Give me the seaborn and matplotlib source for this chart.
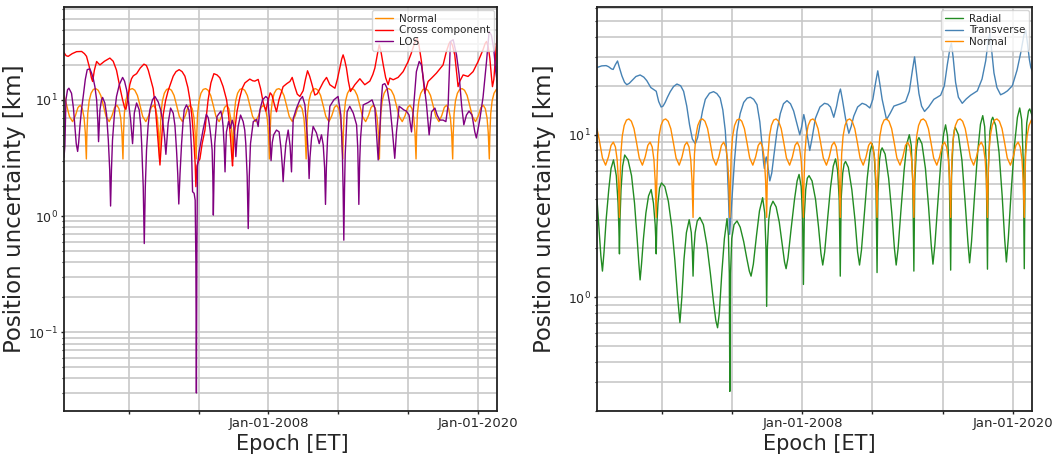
import numpy as np
import pandas as pd
import matplotlib
matplotlib.use("Agg")
import matplotlib.pyplot as plt
import matplotlib.dates as mdates
from matplotlib.ticker import FuncFormatter, LogLocator, NullFormatter
import seaborn as sns

# ---------------------------------------------------------------------------
# Position uncertainty time series (epochs in decimal years, values in km)
# ---------------------------------------------------------------------------
normal_epoch = [
    1996.28, 1996.44, 1996.59, 1996.77, 1996.93, 1997.08, 1997.21, 1997.33, 1997.43, 1997.50,
    1997.56, 1997.59, 1997.64, 1997.72, 1997.83, 1997.96, 1998.10, 1998.24, 1998.39, 1998.54, 1998.69, 1998.87, 1999.03, 1999.18, 1999.31, 1999.43, 1999.53, 1999.60,
    1999.66, 1999.69, 1999.74, 1999.82, 1999.93, 2000.06, 2000.20, 2000.34, 2000.49, 2000.64, 2000.79, 2000.97, 2001.13, 2001.28, 2001.41, 2001.53, 2001.63, 2001.70,
    2001.76, 2001.79, 2001.84, 2001.92, 2002.03, 2002.16, 2002.30, 2002.44, 2002.59, 2002.74, 2002.89, 2003.07, 2003.23, 2003.38, 2003.51, 2003.63, 2003.73, 2003.80,
    2003.86, 2003.89, 2003.94, 2004.02, 2004.13, 2004.26, 2004.40, 2004.54, 2004.69, 2004.84, 2004.99, 2005.17, 2005.33, 2005.48, 2005.61, 2005.73, 2005.83, 2005.90,
    2005.96, 2005.99, 2006.04, 2006.12, 2006.23, 2006.36, 2006.50, 2006.64, 2006.79, 2006.94, 2007.09, 2007.27, 2007.43, 2007.58, 2007.71, 2007.83, 2007.93, 2008.00,
    2008.06, 2008.09, 2008.14, 2008.22, 2008.33, 2008.46, 2008.60, 2008.74, 2008.89, 2009.04, 2009.19, 2009.37, 2009.53, 2009.68, 2009.81, 2009.93, 2010.03, 2010.10,
    2010.16, 2010.19, 2010.24, 2010.32, 2010.43, 2010.56, 2010.70, 2010.84, 2010.99, 2011.14, 2011.29, 2011.47, 2011.63, 2011.78, 2011.91, 2012.03, 2012.13, 2012.20,
    2012.26, 2012.29, 2012.34, 2012.42, 2012.53, 2012.66, 2012.80, 2012.94, 2013.09, 2013.24, 2013.39, 2013.57, 2013.73, 2013.88, 2014.01, 2014.13, 2014.23, 2014.30,
    2014.36, 2014.39, 2014.44, 2014.52, 2014.63, 2014.76, 2014.90, 2015.04, 2015.19, 2015.34, 2015.49, 2015.67, 2015.83, 2015.98, 2016.11, 2016.23, 2016.33, 2016.40,
    2016.46, 2016.49, 2016.54, 2016.62, 2016.73, 2016.86, 2017.00, 2017.14, 2017.29, 2017.44, 2017.59, 2017.77, 2017.93, 2018.08, 2018.21, 2018.33, 2018.43, 2018.50,
    2018.56, 2018.59, 2018.64, 2018.72, 2018.83, 2018.96, 2019.10, 2019.24, 2019.39, 2019.54, 2019.69, 2019.87, 2020.03, 2020.18, 2020.31, 2020.43, 2020.53, 2020.60,
    2020.66, 2020.69, 2020.74, 2020.82, 2020.93, 2021.06, 2021.12,
]
normal_km = [
    10.9, 8.9, 7.2, 6.5, 7.3, 8.6, 9.0, 8.4, 7.0, 5.2,
    3.1, 5.0, 7.6, 9.8, 11.4, 12.3, 12.5, 12.1, 10.9, 8.9, 7.2, 6.5, 7.3, 8.6, 9.0, 8.4, 7.0, 5.2,
    3.1, 5.0, 7.6, 9.8, 11.4, 12.3, 12.5, 12.1, 10.9, 8.9, 7.2, 6.5, 7.3, 8.6, 9.0, 8.4, 7.0, 5.2,
    3.1, 5.0, 7.6, 9.8, 11.4, 12.3, 12.5, 12.1, 10.9, 8.9, 7.2, 6.5, 7.3, 8.6, 9.0, 8.4, 7.0, 5.2,
    3.1, 5.0, 7.6, 9.8, 11.4, 12.3, 12.5, 12.1, 10.9, 8.9, 7.2, 6.5, 7.3, 8.6, 9.0, 8.4, 7.0, 5.2,
    3.1, 5.0, 7.6, 9.8, 11.4, 12.3, 12.5, 12.1, 10.9, 8.9, 7.2, 6.5, 7.3, 8.6, 9.0, 8.4, 7.0, 5.2,
    3.1, 5.0, 7.6, 9.8, 11.4, 12.3, 12.5, 12.1, 10.9, 8.9, 7.2, 6.5, 7.3, 8.6, 9.0, 8.4, 7.0, 5.2,
    3.1, 5.0, 7.6, 9.8, 11.4, 12.3, 12.5, 12.1, 10.9, 8.9, 7.2, 6.5, 7.3, 8.6, 9.0, 8.4, 7.0, 5.2,
    3.1, 5.0, 7.6, 9.8, 11.4, 12.3, 12.5, 12.1, 10.9, 8.9, 7.2, 6.5, 7.3, 8.6, 9.0, 8.4, 7.0, 5.2,
    3.1, 5.0, 7.6, 9.8, 11.4, 12.3, 12.5, 12.1, 10.9, 8.9, 7.2, 6.5, 7.3, 8.6, 9.0, 8.4, 7.0, 5.2,
    3.1, 5.0, 7.6, 9.8, 11.4, 12.3, 12.5, 12.1, 10.9, 8.9, 7.2, 6.5, 7.3, 8.6, 9.0, 8.4, 7.0, 5.2,
    3.1, 5.0, 7.6, 9.8, 11.4, 12.3, 12.5, 12.1, 10.9, 8.9, 7.2, 6.5, 7.3, 8.6, 9.0, 8.4, 7.0, 5.2,
    3.1, 5.0, 7.6, 9.8, 11.4, 12.3, 12.4,
]

cross_epoch = [
    1996.28, 1996.40, 1996.52, 1996.75, 1997.00, 1997.29, 1997.45, 1997.57, 1997.72, 1997.85,
    1997.92, 1998.02, 1998.15, 1998.25, 1998.34, 1998.60, 1998.91, 1999.10, 1999.29, 1999.50,
    1999.64, 1999.75, 1999.83, 1999.93, 2000.05, 2000.15, 2000.25, 2000.44, 2000.65, 2000.86,
    2001.00, 2001.11, 2001.25, 2001.39, 2001.52, 2001.64, 2001.73, 2001.78, 2001.85, 2001.97,
    2002.10, 2002.25, 2002.54, 2002.70, 2002.88, 2003.05, 2003.21, 2003.38, 2003.50, 2003.62,
    2003.72, 2003.80, 2003.84, 2003.90, 2003.96, 2004.07, 2004.20, 2004.36, 2004.45, 2004.54,
    2004.70, 2004.87, 2005.05, 2005.21, 2005.40, 2005.60, 2005.72, 2005.82, 2005.90, 2005.94,
    2005.99, 2006.07, 2006.20, 2006.36, 2006.50, 2006.65, 2006.93, 2007.10, 2007.22, 2007.41,
    2007.55, 2007.70, 2007.85, 2007.95, 2008.10, 2008.20, 2008.35, 2008.46, 2008.60, 2008.84,
    2009.05, 2009.23, 2009.36, 2009.51, 2009.65, 2009.80, 2009.99, 2010.12, 2010.24, 2010.36,
    2010.47, 2010.66, 2010.80, 2010.95, 2011.15, 2011.33, 2011.52, 2011.81, 2011.95, 2012.09,
    2012.20, 2012.28, 2012.37, 2012.47, 2012.58, 2012.70, 2012.95, 2013.24, 2013.52, 2013.81,
    2013.98, 2014.10, 2014.25, 2014.35, 2014.46, 2014.58, 2014.72, 2014.86, 2014.96, 2015.15,
    2015.43, 2015.72, 2016.01, 2016.18, 2016.29, 2016.44, 2016.52, 2016.62, 2016.77, 2016.88,
    2016.96, 2017.05, 2017.15, 2017.35, 2017.63, 2018.01, 2018.20, 2018.35, 2018.43, 2018.55,
    2018.68, 2018.80, 2018.87, 2018.97, 2019.16, 2019.44, 2019.73, 2020.02, 2020.30, 2020.42,
    2020.50, 2020.60, 2020.69, 2020.78, 2020.84, 2020.92, 2020.98, 2021.05, 2021.12,
]
cross_km = [
    25.5, 24.0, 23.7, 25.0, 26.0, 26.1, 25.0, 23.7, 19.5, 15.5,
    14.4, 18.0, 21.4, 20.6, 20.0, 21.5, 22.9, 21.5, 18.0, 12.5,
    10.0, 8.6, 8.3, 10.0, 13.5, 15.2, 16.1, 16.8, 18.8, 20.3,
    19.8, 18.0, 15.0, 12.5, 8.5, 5.0, 3.4, 2.75, 4.0, 7.5,
    9.8, 12.0, 16.0, 17.5, 18.2, 17.5, 16.0, 12.8, 10.0, 7.0,
    4.6, 2.8, 1.79, 2.7, 2.9, 3.1, 4.2, 5.5, 7.5, 10.0,
    14.0, 16.8, 16.4, 15.5, 13.0, 10.0, 7.2, 4.8, 3.2, 2.7,
    3.8, 5.5, 8.0, 10.5, 12.6, 14.0, 15.1, 14.6, 14.5, 15.0,
    12.5, 9.5, 8.0, 9.5, 11.5, 11.0, 9.0, 7.9, 10.0, 13.0,
    13.8, 14.4, 15.6, 13.0, 11.2, 10.7, 12.0, 15.0, 17.8, 16.0,
    14.0, 11.0, 11.3, 12.5, 14.3, 15.6, 13.5, 12.6, 15.0, 18.8,
    22.5, 24.4, 22.0, 18.8, 14.5, 11.8, 13.5, 15.2, 13.5, 14.5,
    16.5, 18.8, 25.0, 29.8, 25.5, 20.0, 15.5, 13.5, 15.4, 14.9,
    15.6, 17.5, 21.4, 25.0, 28.2, 33.0, 34.0, 30.0, 21.4, 14.5,
    11.4, 12.8, 14.4, 15.4, 17.0, 20.0, 26.1, 30.5, 31.8, 29.5,
    24.4, 16.5, 13.0, 14.5, 16.4, 15.9, 17.5, 21.4, 27.0, 30.5,
    31.8, 28.5, 22.8, 16.0, 13.0, 15.0, 20.0, 28.0, 36.0,
]

los_epoch = [
    1996.28, 1996.33, 1996.39, 1996.48, 1996.56, 1996.71, 1996.82, 1996.90, 1996.98, 1997.06,
    1997.12, 1997.19, 1997.28, 1997.38, 1997.50, 1997.61, 1997.76, 1997.86, 1997.95, 1998.05,
    1998.15, 1998.22, 1998.26, 1998.30, 1998.34, 1998.42, 1998.49, 1998.62, 1998.72, 1998.82,
    1998.90, 1998.95, 1999.00, 1999.06, 1999.17, 1999.29, 1999.45, 1999.64, 1999.75, 1999.87,
    2000.00, 2000.10, 2000.17, 2000.21, 2000.26, 2000.31, 2000.44, 2000.59, 2000.68, 2000.73,
    2000.82, 2000.88, 2000.94, 2001.01, 2001.10, 2001.20, 2001.35, 2001.49, 2001.68, 2001.82,
    2001.93, 2002.04, 2002.12, 2002.18, 2002.25, 2002.39, 2002.54, 2002.64, 2002.73, 2002.80,
    2002.86, 2002.93, 2003.02, 2003.10, 2003.17, 2003.30, 2003.44, 2003.52, 2003.59, 2003.65,
    2003.74, 2003.80, 2003.84, 2003.87, 2003.90, 2003.93, 2004.01, 2004.12, 2004.25, 2004.44,
    2004.55, 2004.63, 2004.72, 2004.77, 2004.81, 2004.84, 2004.88, 2004.92, 2005.05, 2005.27,
    2005.35, 2005.40, 2005.46, 2005.51, 2005.55, 2005.59, 2005.71, 2005.82, 2005.92, 2006.02,
    2006.08, 2006.13, 2006.19, 2006.26, 2006.40, 2006.55, 2006.64, 2006.70, 2006.78, 2006.84,
    2006.90, 2006.97, 2007.13, 2007.32, 2007.41, 2007.51, 2007.66, 2007.85, 2007.96, 2008.05,
    2008.10, 2008.15, 2008.22, 2008.30, 2008.46, 2008.61, 2008.72, 2008.80, 2008.84, 2008.90,
    2009.00, 2009.13, 2009.24, 2009.32, 2009.37, 2009.42, 2009.61, 2009.80, 2009.95, 2010.09,
    2010.22, 2010.29, 2010.33, 2010.38, 2010.47, 2010.56, 2010.75, 2010.91, 2011.04, 2011.14,
    2011.22, 2011.27, 2011.32, 2011.39, 2011.52, 2011.75, 2011.99, 2012.15, 2012.24, 2012.28,
    2012.32, 2012.36, 2012.40, 2012.51, 2012.66, 2012.86, 2013.05, 2013.12, 2013.18, 2013.23,
    2013.28, 2013.43, 2013.72, 2013.94, 2014.10, 2014.19, 2014.29, 2014.38, 2014.46, 2014.54,
    2014.67, 2014.80, 2014.96, 2015.11, 2015.24, 2015.34, 2015.49, 2015.63, 2015.76, 2015.91,
    2016.06, 2016.20, 2016.33, 2016.48, 2016.64, 2016.77, 2016.90, 2017.06, 2017.21, 2017.35,
    2017.54, 2017.67, 2017.82, 2018.01, 2018.17, 2018.30, 2018.37, 2018.43, 2018.59, 2018.78,
    2018.93, 2019.07, 2019.20, 2019.35, 2019.50, 2019.67, 2019.83, 2019.92, 2020.11, 2020.30,
    2020.50, 2020.65, 2020.78, 2020.92, 2021.03, 2021.12,
]
los_km = [
    3.2, 4.0, 10.0, 12.2, 12.6, 11.4, 8.5, 5.9, 4.2, 3.6,
    4.3, 5.9, 8.2, 10.7, 15.0, 18.2, 18.5, 17.0, 15.4, 13.0,
    10.0, 6.5, 4.37, 6.0, 8.2, 9.8, 10.5, 9.4, 7.5, 4.5,
    2.5, 1.22, 2.5, 4.5, 7.5, 10.7, 13.5, 15.6, 14.5, 12.2,
    9.0, 6.7, 5.0, 4.2, 5.5, 7.7, 9.4, 8.2, 6.0, 4.2,
    1.8, 0.58, 1.8, 3.7, 6.0, 8.2, 10.0, 10.7, 9.6, 8.2,
    6.7, 4.8, 3.4, 4.5, 6.3, 8.5, 7.7, 6.0, 3.7, 2.3,
    1.27, 2.3, 4.2, 6.3, 8.2, 9.05, 8.2, 6.0, 3.7, 1.62,
    1.57, 1.37, 0.4, 0.030, 0.5, 2.66, 3.47, 4.3, 5.5, 7.5,
    7.0, 5.9, 4.5, 3.7, 2.2, 1.02, 2.3, 4.2, 7.2, 8.0,
    7.0, 5.9, 4.0, 2.4, 3.8, 5.3, 6.5, 5.7, 6.7, 5.9,
    4.5, 3.25, 4.5, 5.9, 7.4, 6.5, 5.5, 4.2, 2.2, 0.78,
    2.2, 4.2, 6.5, 6.8, 5.9, 8.2, 10.0, 10.7, 10.3, 7.0,
    4.2, 3.0, 4.3, 5.0, 5.5, 5.3, 3.8, 2.6, 1.98, 2.8,
    4.2, 5.5, 4.0, 2.4, 4.3, 6.9, 8.5, 10.0, 10.7, 9.05,
    5.0, 3.2, 2.1, 3.2, 4.7, 5.9, 5.2, 4.2, 5.0, 4.1,
    2.6, 1.26, 2.6, 4.7, 8.8, 10.0, 10.7, 7.4, 3.36, 1.7,
    0.62, 1.7, 3.4, 7.9, 8.8, 7.7, 6.1, 3.8, 1.26, 3.0,
    4.7, 9.05, 9.5, 10.0, 8.5, 5.3, 3.04, 5.3, 9.5, 13.5,
    13.8, 12.6, 9.05, 5.3, 3.14, 5.3, 8.8, 8.5, 8.2, 8.0,
    7.4, 5.3, 9.05, 17.5, 21.4, 20.0, 14.4, 9.05, 5.0, 7.9,
    8.5, 7.4, 6.7, 6.7, 6.5, 9.05, 18.0, 31.8, 32.9, 24.4,
    16.4, 9.05, 6.1, 7.4, 8.0, 7.4, 5.3, 4.7, 6.7, 10.5,
    21.4, 38.8, 36.0, 27.0, 17.5, 14.0,
]

radial_epoch = [
    1996.28, 1996.40, 1996.50, 1996.59, 1996.68, 1996.80, 1996.95, 1997.08, 1997.22, 1997.38,
    1997.48, 1997.53, 1997.56, 1997.59, 1997.65, 1997.74, 1997.86,
    1998.05, 1998.25, 1998.42, 1998.57, 1998.67, 1998.74, 1998.82, 1998.93, 1999.07, 1999.22,
    1999.37, 1999.50, 1999.60, 1999.64, 1999.66, 1999.69, 1999.76, 1999.85, 1999.96,
    2000.15, 2000.35, 2000.55, 2000.72, 2000.88, 2001.01, 2001.12, 2001.24, 2001.38,
    2001.54, 2001.66, 2001.72, 2001.76, 2001.80, 2001.88, 2002.00, 2002.15,
    2002.35, 2002.55, 2002.75, 2002.92, 2003.06, 2003.16, 2003.26, 2003.40, 2003.55,
    2003.70, 2003.78, 2003.83, 2003.86, 2003.90, 2003.97, 2004.10, 2004.27,
    2004.45, 2004.65, 2004.82, 2004.97, 2005.07, 2005.20, 2005.38, 2005.55,
    2005.73, 2005.85, 2005.92, 2005.96, 2006.00, 2006.08, 2006.18, 2006.32,
    2006.50, 2006.68, 2006.85, 2006.98, 2007.07, 2007.18, 2007.35, 2007.55, 2007.70,
    2007.81, 2007.93, 2008.01, 2008.06, 2008.11, 2008.19, 2008.28, 2008.38,
    2008.55, 2008.75, 2008.92, 2009.06, 2009.16, 2009.27, 2009.42, 2009.60, 2009.76,
    2009.89, 2010.01, 2010.10, 2010.16, 2010.21, 2010.30, 2010.38, 2010.46,
    2010.62, 2010.82, 2011.00, 2011.15, 2011.26, 2011.37, 2011.52, 2011.70, 2011.86,
    2011.98, 2012.10, 2012.20, 2012.26, 2012.31, 2012.40, 2012.48, 2012.55,
    2012.72, 2012.92, 2013.10, 2013.25, 2013.35, 2013.46, 2013.62, 2013.80, 2013.96,
    2014.10, 2014.21, 2014.30, 2014.36, 2014.41, 2014.50, 2014.58, 2014.65,
    2014.82, 2015.02, 2015.20, 2015.35, 2015.45, 2015.56, 2015.72, 2015.90, 2016.05,
    2016.17, 2016.28, 2016.38, 2016.46, 2016.51, 2016.60, 2016.67, 2016.72,
    2016.90, 2017.10, 2017.28, 2017.44, 2017.54, 2017.65, 2017.82, 2018.00, 2018.16,
    2018.29, 2018.40, 2018.49, 2018.56, 2018.61, 2018.70, 2018.79, 2018.86,
    2019.03, 2019.22, 2019.40, 2019.54, 2019.64, 2019.75, 2019.92, 2020.10, 2020.27,
    2020.40, 2020.51, 2020.60, 2020.66, 2020.71, 2020.80, 2020.90, 2020.97, 2021.12,
]
radial_km = [
    4.0, 2.6, 1.8, 1.45, 1.9, 3.0, 4.6, 6.2, 7.0, 5.6,
    3.8, 2.6, 1.85, 3.0, 4.6, 6.4, 7.5,
    7.0, 5.6, 3.8, 2.3, 1.6, 1.28, 1.6, 2.3, 3.3, 4.2,
    4.6, 3.8, 2.8, 2.2, 1.85, 2.7, 3.8, 4.7, 5.05,
    4.8, 3.9, 2.7, 1.7, 1.0, 0.70, 1.0, 1.7, 2.5,
    3.0, 2.5, 1.9, 1.35, 1.9, 2.5, 2.95, 3.1,
    2.8, 2.1, 1.4, 0.95, 0.72, 0.65, 0.8, 1.4, 2.3,
    3.05, 2.4, 1.4, 0.264, 1.4, 2.3, 2.8, 2.95,
    2.7, 2.2, 1.75, 1.45, 1.35, 1.6, 2.4, 3.4,
    4.1, 3.3, 2.0, 0.88, 2.0, 3.0, 3.6, 3.9,
    3.6, 2.9, 2.1, 1.65, 1.5, 1.75, 2.6, 4.0, 5.2,
    5.7, 4.8, 3.2, 1.2, 3.2, 4.6, 5.4, 5.6,
    5.2, 4.0, 2.7, 1.85, 1.58, 1.9, 2.9, 4.7, 6.4,
    7.1, 6.0, 4.0, 1.35, 4.0, 5.8, 6.6, 6.85,
    6.3, 4.6, 3.0, 1.9, 1.58, 1.95, 3.1, 5.4, 7.8,
    8.8, 7.5, 4.6, 1.42, 4.4, 7.0, 8.0, 8.3,
    7.6, 5.4, 3.3, 2.0, 1.58, 2.0, 3.4, 6.0, 8.8,
    10.0, 8.6, 5.0, 1.45, 5.0, 8.0, 9.3, 9.6,
    8.8, 6.2, 3.6, 2.1, 1.6, 2.1, 3.7, 6.8, 10.0,
    11.5, 9.8, 5.8, 1.47, 5.6, 9.2, 10.7, 11.1,
    10.0, 7.0, 3.9, 2.2, 1.63, 2.2, 4.2, 7.8, 11.6,
    13.1, 11.2, 6.5, 1.49, 6.2, 10.5, 12.3, 12.8,
    11.4, 7.8, 4.2, 2.3, 1.65, 2.3, 4.6, 8.6, 12.8,
    14.6, 12.4, 7.0, 1.5, 7.0, 11.8, 14.0, 14.4, 13.0,
]

transverse_epoch = [
    1996.28, 1996.55, 1996.80, 1996.94, 1997.10, 1997.20, 1997.33, 1997.45, 1997.55, 1997.70,
    1997.85, 1997.98, 1998.12, 1998.27, 1998.50, 1998.74, 1998.95, 1999.12, 1999.35, 1999.50,
    1999.66, 1999.80, 1999.94, 2000.05, 2000.17, 2000.30, 2000.46, 2000.65, 2000.84, 2001.05,
    2001.22, 2001.40, 2001.56, 2001.72, 2001.89, 2002.02, 2002.17, 2002.30, 2002.46, 2002.70,
    2002.93, 2003.12, 2003.31, 2003.46, 2003.60, 2003.70, 2003.78, 2003.85, 2003.92, 2004.00,
    2004.12, 2004.27, 2004.45, 2004.65, 2004.85, 2005.03, 2005.22, 2005.41, 2005.57, 2005.70,
    2005.78, 2005.83, 2005.88, 2005.94, 2006.02, 2006.14, 2006.25, 2006.37, 2006.55, 2006.74,
    2006.92, 2007.12, 2007.32, 2007.50, 2007.68, 2007.85, 2007.96, 2008.08, 2008.17, 2008.27,
    2008.42, 2008.55, 2008.74, 2009.00, 2009.26, 2009.45, 2009.60, 2009.79, 2009.95, 2010.08,
    2010.17, 2010.28, 2010.46, 2010.65, 2010.78, 2010.93, 2011.15, 2011.41, 2011.62, 2011.85,
    2012.02, 2012.18, 2012.30, 2012.42, 2012.55, 2012.80, 2013.00, 2013.22, 2013.60, 2013.89,
    2014.10, 2014.28, 2014.40, 2014.50, 2014.65, 2014.80, 2014.97, 2015.20, 2015.50, 2015.89,
    2016.10, 2016.27, 2016.42, 2016.50, 2016.60, 2016.74, 2016.90, 2017.12, 2017.35, 2017.60,
    2017.98, 2018.25, 2018.46, 2018.60, 2018.70, 2018.80, 2018.93, 2019.10, 2019.31, 2019.50,
    2019.70, 2019.98, 2020.25, 2020.46, 2020.64, 2020.74, 2020.85, 2020.95, 2021.03, 2021.12,
]
transverse_km = [
    25.9, 26.5, 26.6, 26.2, 25.4, 25.2, 27.0, 28.4, 26.0, 23.0,
    21.0, 20.3, 20.7, 21.5, 22.8, 23.3, 22.6, 21.5, 19.5, 19.0,
    18.5, 16.0, 14.8, 15.0, 15.8, 17.0, 18.4, 19.8, 20.5, 20.0,
    18.5, 15.0, 11.5, 9.4, 8.8, 9.6, 11.7, 14.0, 16.5, 18.0,
    18.4, 17.9, 16.8, 14.2, 10.6, 7.0, 4.2, 2.44, 3.2, 4.3,
    6.8, 10.5, 13.5, 15.8, 16.8, 17.0, 16.5, 15.3, 12.0, 8.6,
    6.8, 6.2, 6.9, 7.3, 6.5, 5.2, 5.8, 7.4, 10.5, 13.5,
    15.5, 16.2, 15.5, 14.0, 11.8, 10.0, 11.2, 13.3, 12.0, 10.0,
    8.0, 9.5, 12.6, 14.8, 15.6, 15.4, 14.8, 12.8, 15.0, 17.8,
    19.1, 16.5, 12.6, 10.2, 11.2, 13.0, 14.8, 15.6, 15.3, 14.6,
    16.5, 21.0, 24.7, 20.5, 16.5, 12.4, 13.5, 15.0, 15.5, 16.0,
    18.5, 25.0, 30.1, 24.5, 17.9, 15.0, 13.9, 14.8, 16.5, 17.5,
    20.0, 27.0, 34.0, 36.5, 30.0, 21.0, 17.0, 15.6, 16.6, 17.5,
    18.6, 22.0, 28.5, 37.5, 42.0, 33.0, 24.0, 19.5, 17.6, 18.0,
    18.6, 20.0, 25.0, 32.0, 41.0, 44.0, 36.0, 29.0, 26.0, 24.5,
]

x_range = [1996.28, 2021.10]
labelled_years = [2008, 2020]

left_series = [
    (normal_epoch, normal_km, "Normal", "darkorange"),
    (cross_epoch, cross_km, "Cross component", "red"),
    (los_epoch, los_km, "LOS", "purple"),
]
right_series = [
    (radial_epoch, radial_km, "Radial", "forestgreen"),
    (transverse_epoch, transverse_km, "Transverse", "steelblue"),
    (normal_epoch, normal_km, "Normal", "darkorange"),
]


def to_datetime(years):
    """Convert decimal years to timestamps."""
    stamps = []
    for y in years:
        year = int(np.floor(y))
        start = pd.Timestamp(year=year, month=1, day=1)
        end = pd.Timestamp(year=year + 1, month=1, day=1)
        stamps.append(start + (end - start) * (y - year))
    return pd.DatetimeIndex(stamps)


def epoch_label(value, pos):
    d = mdates.num2date(value)
    return d.strftime("%b-%d-%Y") if d.year in labelled_years else ""


sns.set_style("ticks")
plt.rcParams["font.family"] = ["DejaVu Sans"]
plt.rcParams["mathtext.fontset"] = "dejavusans"

fig = plt.figure(figsize=(10.54, 4.61), dpi=100)
ax_left = fig.add_axes([64 / 1054, 50 / 461, 433 / 1054, 404 / 461])
ax_right = fig.add_axes([597 / 1054, 50 / 461, 435 / 1054, 404 / 461])

panels = [
    (ax_left, left_series, (0.021, 63), (0.527, -0.058), -0.087),
    (ax_right, right_series, (0.20, 61), (0.510, -0.058), -0.095),
]

for ax, series, ylim, xlabel_pos, ylabel_x in panels:
    for epoch, km, label, color in series:
        sns.lineplot(x=to_datetime(epoch), y=km, ax=ax, color=color,
                     linewidth=1.0, label=label)
    ax.set_yscale("log")
    ax.set_ylim(*ylim)
    lo, hi = to_datetime(x_range)
    ax.set_xlim(lo, hi)

    ax.xaxis.set_major_locator(mdates.YearLocator(4))
    ax.xaxis.set_major_formatter(FuncFormatter(epoch_label))
    ax.yaxis.set_minor_locator(LogLocator(base=10, subs=np.arange(2, 10), numticks=100))
    ax.yaxis.set_minor_formatter(NullFormatter())

    ax.grid(True, which="major", color="#c8c8c8", linewidth=1.2)
    ax.grid(True, which="minor", axis="y", color="#c8c8c8", linewidth=1.2)
    ax.set_axisbelow(True)

    for spine in ax.spines.values():
        spine.set_visible(True)
        spine.set_color("#222222")
        spine.set_linewidth(1.3)

    ax.tick_params(axis="both", which="major", length=2.4, width=1.0,
                   color="#222222", pad=2)
    ax.tick_params(axis="x", which="major", labelsize=9.5)
    ax.tick_params(axis="y", which="major", labelsize=9)
    ax.tick_params(axis="y", which="minor", length=1.6, width=0.8, color="#222222")

    ax.set_xlabel("Epoch [ET]", fontsize=15)
    ax.xaxis.set_label_coords(*xlabel_pos)
    ax.set_ylabel("Position uncertainty [km]", fontsize=16.5)
    ax.yaxis.set_label_coords(ylabel_x, 0.5)

    ax.legend(loc="upper right", fontsize=7.5, framealpha=0.8, labelspacing=0.15,
              handlelength=1.7, handletextpad=0.6, borderpad=0.35, borderaxespad=0.3)

fig.savefig("out.png", dpi=100)
